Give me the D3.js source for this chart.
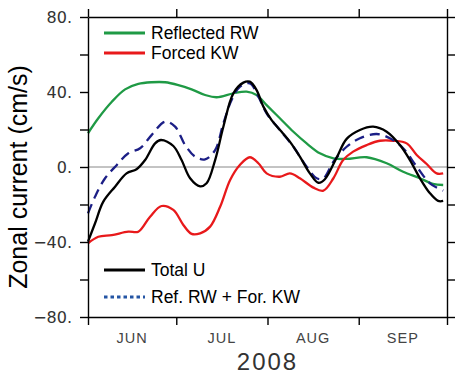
<!DOCTYPE html>
<html>
<head>
<meta charset="utf-8">
<script src="https://cdn.jsdelivr.net/npm/d3@7"></script>
<style>
  body { margin: 0; background: #fff; }
  svg text { font-family: "Liberation Sans", Arial, sans-serif; }
</style>
</head>
<body>
<div id="chart"></div>
<script>
// days counted from 1 June 2008
const monthTicks = [0, 30, 61, 92, 122];
const monthNames = ["JUN", "JUL", "AUG", "SEP"];
const yTicks = [-80, -60, -40, -20, 0, 20, 40, 60, 80];
const yLabels = {"80": "80.", "40": "40.", "0": "0.", "-40": "\u221240.", "-80": "\u221280."};

// [day, cm/s]
const reflectedRW = [[0,18],[3.5,26],[8.1,34.8],[12.6,41.4],[17.1,44.3],[21.6,45.2],[26.2,45.2],
  [30.7,43.7],[35.2,41.4],[39.8,38.4],[43.7,37.2],[49.4,39.3],[53.9,40.2],[57.3,38.4],[60.7,33],
  [65.2,26],[69.8,18.8],[74.3,12.6],[78.8,7.3],[83.4,4.6],[87.9,4.3],[94.7,5.2],[101.5,2],
  [107.1,-2.5],[112.8,-6],[117.2,-9],[120.7,-9.6]];

const forcedKW = [[0,-40.7],[3.5,-37.2],[8.1,-36.3],[13.7,-34.5],[17.1,-34.5],[21.1,-26.5],[25,-20.8],
  [29,-22.9],[32.4,-30.9],[35.2,-35.7],[38.1,-35.4],[41.5,-31.8],[44.9,-21.2],[48.3,-6.9],[51.6,1.1],
  [55,5.2],[57.9,2],[60.7,-3.4],[65.2,-5.2],[68.6,-3.4],[72,-6],[76.6,-11],[80,-12.6],[83.4,-6],
  [86.7,3.7],[90.1,8.2],[94.7,11.7],[99.2,14],[103.7,14],[108.3,12.6],[111.7,6.4],[115.1,1.6],
  [118.5,-3.4],[120.7,-3.4]];

const totalU = [[0,-39.8],[2.4,-30],[5.2,-18.5],[9.2,-10.5],[13.1,-3.4],[16.5,-1.2],[19.4,3.7],
  [22.8,12.6],[24.8,14.4],[29,11.2],[31.8,3.7],[34.7,-6],[38.1,-10.3],[40.3,-8.7],[43.2,3.7],
  [46,21.5],[49.4,39.3],[52.8,45],[55,45.5],[57.3,41],[59.6,32.2],[62.4,25],[65.8,18.8],[68.6,13.5],
  [72,5.5],[75.4,-3.4],[78.3,-8.4],[80.5,-6.5],[84.5,5],[87.9,15],[92.4,19.7],[96.9,21.5],
  [101.5,18.8],[106,11.7],[109.4,3.7],[112.8,-6],[116.2,-14],[119,-18.1],[120.7,-18.1]];

const sumRWKW = [[0,-24.7],[2.4,-15.8],[5.8,-6],[9.8,1.1],[13.7,7.3],[17.7,10],[21.6,17],[26.2,24.2],
  [29.6,21.5],[33,11.7],[36.4,5.5],[39.8,4.1],[43.2,9],[46,23.3],[48.8,35.7],[51.6,42.8],[55,44.6],
  [57.9,37.5],[60.7,28.6],[65.2,19.7],[69.8,10.8],[74.3,0.2],[77.7,-6],[80,-6],[83.4,2.8],
  [87.9,10.8],[92.4,15.3],[98.1,17.6],[102.6,15.3],[107.1,10],[111.7,0.2],[116.2,-8.7],[120.7,-12.6]];

const W = 462, H = 374;
const margin = {top: 17, right: 15, bottom: 57, left: 88};
const width = W - margin.left - margin.right,
      height = H - margin.top - margin.bottom;

const svg = d3.select("#chart").append("svg")
    .attr("width", W).attr("height", H);
const g = svg.append("g")
    .attr("transform", "translate(" + margin.left + "," + margin.top + ")");

const x = d3.scaleLinear().domain([0, 122]).range([0, width]);
const y = d3.scaleLinear().domain([-80, 80]).range([height, 0]);

// zero line
g.append("line")
    .attr("x1", 0).attr("x2", width)
    .attr("y1", y(0)).attr("y2", y(0))
    .attr("stroke", "#888").attr("stroke-width", 1);

const line = d3.line()
    .x(d => x(d[0]))
    .y(d => y(d[1]))
    .curve(d3.curveCatmullRom.alpha(0.5));

g.append("path").datum(reflectedRW)
    .attr("fill", "none").attr("stroke", "#1f9a45").attr("stroke-width", 2.3).attr("d", line);
g.append("path").datum(forcedKW)
    .attr("fill", "none").attr("stroke", "#e8191b").attr("stroke-width", 2.3).attr("d", line);
g.append("path").datum(sumRWKW)
    .attr("fill", "none").attr("stroke", "#1c1f86").attr("stroke-width", 2.3)
    .attr("stroke-dasharray", "10,6").attr("d", line);
g.append("path").datum(totalU)
    .attr("fill", "none").attr("stroke", "#000").attr("stroke-width", 2.3).attr("d", line);

// axes on all four sides, ticks outward
const tickLen = 8;
function styleAxis(sel) {
    sel.selectAll("path.domain").attr("stroke", "#000").attr("stroke-width", 1.4);
    sel.selectAll(".tick line").attr("stroke", "#000").attr("stroke-width", 1.4);
}
const xb = g.append("g").attr("transform", "translate(0," + height + ")")
    .call(d3.axisBottom(x).tickValues(monthTicks).tickSize(tickLen).tickSizeOuter(0).tickFormat(""));
styleAxis(xb);
const xt = g.append("g")
    .call(d3.axisTop(x).tickValues(monthTicks).tickSize(tickLen).tickSizeOuter(0).tickFormat(""));
styleAxis(xt);
const yl = g.append("g")
    .call(d3.axisLeft(y).tickValues(yTicks).tickSize(tickLen).tickSizeOuter(0)
        .tickPadding(8)
        .tickFormat(d => yLabels[String(d)] || ""));
styleAxis(yl);
yl.selectAll(".tick text")
    .style("font-family", "'DejaVu Sans', sans-serif")
    .attr("font-size", 16).attr("fill", "#333").attr("dy", "0.36em");
const yr = g.append("g").attr("transform", "translate(" + width + ",0)")
    .call(d3.axisRight(y).tickValues(yTicks).tickSize(tickLen).tickSizeOuter(0).tickFormat(""));
styleAxis(yr);

// month labels centred between ticks
g.selectAll(".month").data(monthNames).enter().append("text")
    .attr("x", (d, i) => x((monthTicks[i] + monthTicks[i + 1]) / 2))
    .attr("y", height + 26)
    .attr("text-anchor", "middle")
    .style("letter-spacing", "1px")
    .attr("font-size", 14.5).attr("fill", "#444")
    .text(d => d);

svg.append("text")
    .attr("x", margin.left + width / 2).attr("y", H - 4)
    .attr("text-anchor", "middle")
    .style("letter-spacing", "2px")
    .attr("font-size", 24).attr("fill", "#333")
    .text("2008");

svg.append("text")
    .attr("transform", "translate(27," + (margin.top + height / 2 + 10) + ") rotate(-90)")
    .attr("text-anchor", "middle")
    .attr("font-size", 25).attr("fill", "#000")
    .text("Zonal current (cm/s)");

// legends
const legendItems = [
    {label: "Reflected RW", color: "#1f9a45", dash: null, y: 33},
    {label: "Forced KW", color: "#e8191b", dash: null, y: 53},
    {label: "Total U", color: "#000", dash: null, y: 270},
    {label: "Ref. RW + For. KW", color: "#2455a4", dash: "3.5,3", y: 297}
];
const leg = svg.append("g");
legendItems.forEach(function (d) {
    leg.append("line")
        .attr("x1", 104).attr("x2", 145)
        .attr("y1", d.y).attr("y2", d.y)
        .attr("stroke", d.color).attr("stroke-width", 3)
        .attr("stroke-dasharray", d.dash);
    leg.append("text")
        .attr("x", 151).attr("y", d.y)
        .attr("dy", "0.35em")
        .attr("font-size", 17.5).attr("fill", "#000")
        .text(d.label);
});
</script>
</body>
</html>
